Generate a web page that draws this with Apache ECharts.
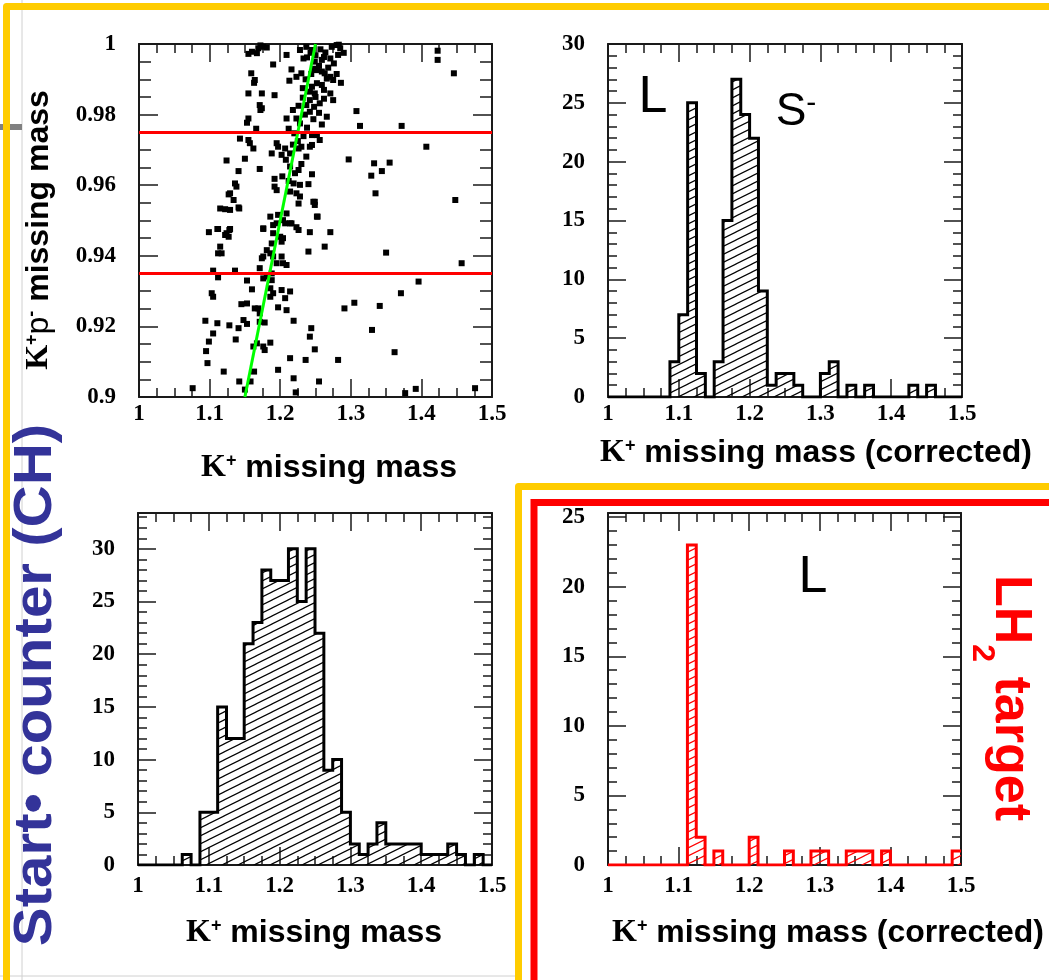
<!DOCTYPE html>
<html><head><meta charset="utf-8">
<script src="https://cdn.jsdelivr.net/npm/echarts@6/dist/echarts.min.js"></script>
<style>html,body{margin:0;padding:0;background:#fff}#c{width:1049px;height:980px}</style>
</head><body><div id="c"></div>
<script>
// ---------------- DATA ----------------
const binStart = 1.0, binWidth = 0.0125;
const xTicks = [1, 1.1, 1.2, 1.3, 1.4, 1.5];
// top-right: K+ missing mass (corrected), start counter
const countsTR = [0,0,0,0,0,0,0, 3,7,25,2,0, 3,15,27,24,22, 9,1,2,2,1, 0,0,2,3,0, 1,0,1,0,0, 0,0,1,0,1, 0,0,0];
// bottom-left: K+ missing mass, start counter
const countsBL = [0,0,0,0,0, 1,0,5,5,15, 12,12,21,23,28, 27,27,30,25,30, 22,9,10,5,2, 1,2,4,2,2, 2,2,1,1,1, 2,1,0,1,0];
// bottom-right: K+ missing mass (corrected), LH2 target
const countsBR = [0,0,0,0,0, 0,0,0,0,23, 2,0,1,0,0, 0,2,0,0,0, 1,0,0,1,1, 0,0,1,1,1, 0,1,0,0,0, 0,0,0,0,1];
// top-left scatter: [K+ missing mass, K+p- missing mass]
const cutLines = [0.935, 0.975];
const greenLine = [[1.15, 0.90], [1.25, 1.00]];
const scatterPoints = [
[1.160,0.9978],[1.169,0.9988],[1.176,0.9992],[1.167,0.9974],[1.155,0.9972],[1.190,0.9942],[1.209,0.9969],[1.228,0.9983],
[1.233,0.9959],[1.237,0.9992],[1.245,0.9983],[1.249,0.9950],[1.259,0.9955],[1.273,0.9992],[1.280,0.9997],[1.285,0.9988],
[1.282,0.9969],[1.271,0.9959],[1.276,0.9945],[1.423,0.9981],[1.423,0.9955],[1.446,0.9917],[1.216,0.9928],[1.213,0.9896],
[1.223,0.9907],[1.230,0.9917],[1.252,0.9926],[1.259,0.9922],[1.263,0.9917],[1.271,0.9907],[1.275,0.9898],[1.286,0.9890],
[1.252,0.9889],[1.245,0.9879],[1.259,0.9884],[1.159,0.9917],[1.164,0.9898],[1.163,0.9890],[1.155,0.9860],[1.174,0.9860],
[1.192,0.9855],[1.242,0.9865],[1.249,0.9860],[1.271,0.9860],[1.275,0.9841],[1.242,0.9841],[1.256,0.9832],[1.237,0.9827],
[1.171,0.9827],[1.174,0.9818],[1.172,0.9813],[1.308,0.9810],[1.218,0.9813],[1.242,0.9808],[1.223,0.9789],[1.209,0.9789],
[1.247,0.9787],[1.259,0.9772],[1.266,0.9794],[1.155,0.9789],[1.153,0.9777],[1.166,0.9760],[1.313,0.9768],[1.372,0.9768],
[1.220,0.9747],[1.233,0.9739],[1.245,0.9742],[1.252,0.9742],[1.256,0.9728],[1.245,0.9714],[1.242,0.9709],[1.143,0.9732],
[1.155,0.9728],[1.157,0.9719],[1.162,0.9704],[1.195,0.9719],[1.197,0.9709],[1.207,0.9704],[1.226,0.9704],[1.230,0.9709],
[1.214,0.9690],[1.202,0.9686],[1.188,0.9690],[1.237,0.9681],[1.407,0.9709],[1.124,0.9670],[1.150,0.9675],[1.297,0.9673],
[1.333,0.9662],[1.355,0.9664],[1.329,0.9627],[1.344,0.9640],[1.171,0.9646],[1.141,0.9640],[1.214,0.9653],[1.221,0.9634],
[1.226,0.9643],[1.245,0.9631],[1.192,0.9618],[1.219,0.9605],[1.228,0.9601],[1.136,0.9605],[1.138,0.9596],[1.129,0.9577],
[1.127,0.9574],[1.192,0.9596],[1.195,0.9586],[1.214,0.9582],[1.223,0.9577],[1.228,0.9568],[1.240,0.9603],[1.335,0.9577],
[1.134,0.9558],[1.115,0.9534],[1.122,0.9532],[1.129,0.9530],[1.142,0.9534],[1.448,0.9558],[1.249,0.9553],[1.249,0.9544],
[1.253,0.9511],[1.197,0.9516],[1.209,0.9520],[1.207,0.9492],[1.214,0.9492],[1.190,0.9487],[1.186,0.9511],[1.112,0.9476],
[1.129,0.9476],[1.176,0.9476],[1.223,0.9481],[1.141,0.9537],[1.226,0.9548],[1.247,0.9553],[1.204,0.9501],[1.216,0.9492],
[1.195,0.9492],[1.176,0.9478],[1.252,0.9511],[1.099,0.9467],[1.111,0.9476],[1.124,0.9464],[1.128,0.9473],[1.127,0.9454],
[1.122,0.9459],[1.190,0.9464],[1.200,0.9454],[1.204,0.9450],[1.202,0.9440],[1.188,0.9435],[1.226,0.9473],[1.242,0.9467],
[1.271,0.9467],[1.115,0.9426],[1.112,0.9407],[1.117,0.9407],[1.176,0.9398],[1.181,0.9416],[1.186,0.9407],[1.174,0.9393],
[1.190,0.9398],[1.202,0.9398],[1.204,0.9379],[1.209,0.9374],[1.195,0.9379],[1.240,0.9412],[1.263,0.9426],[1.350,0.9409],
[1.457,0.9379],[1.105,0.9358],[1.112,0.9339],[1.136,0.9358],[1.171,0.9365],[1.176,0.9336],[1.181,0.9341],[1.188,0.9350],
[1.188,0.9331],[1.153,0.9330],[1.160,0.9305],[1.186,0.9308],[1.190,0.9294],[1.186,0.9284],[1.202,0.9303],[1.214,0.9299],
[1.207,0.9280],[1.103,0.9294],[1.105,0.9284],[1.396,0.9327],[1.371,0.9294],[1.145,0.9263],[1.153,0.9265],[1.164,0.9251],
[1.169,0.9251],[1.171,0.9237],[1.197,0.9254],[1.209,0.9246],[1.291,0.9251],[1.305,0.9267],[1.341,0.9258],[1.094,0.9216],
[1.111,0.9209],[1.128,0.9203],[1.141,0.9195],[1.153,0.9207],[1.148,0.9218],[1.171,0.9213],[1.178,0.9211],[1.219,0.9216],
[1.105,0.9180],[1.099,0.9157],[1.095,0.9130],[1.097,0.9096],[1.137,0.9163],[1.162,0.9143],[1.167,0.9152],[1.176,0.9143],
[1.178,0.9133],[1.186,0.9154],[1.244,0.9195],[1.242,0.9171],[1.249,0.9135],[1.330,0.9190],[1.214,0.9110],[1.236,0.9105],
[1.282,0.9105],[1.362,0.9127],[1.120,0.9072],[1.142,0.9044],[1.158,0.9044],[1.163,0.9072],[1.197,0.9077],[1.219,0.9053],
[1.255,0.9044],[1.076,0.9025],[1.150,0.9021],[1.222,0.9013],[1.377,0.9011],[1.392,0.9023],[1.476,0.9025],
[1.243,0.9975],[1.250,0.9968],[1.257,0.9985],[1.264,0.9976],[1.238,0.9962],[1.262,0.9963],[1.255,0.9938],[1.248,0.9930],
[1.268,0.9933],[1.244,0.9915],[1.236,0.9900],[1.266,0.9902],[1.280,0.9915],[1.232,0.9875],[1.262,0.9870],[1.250,0.9850],
[1.232,0.9848],[1.262,0.9845],[1.226,0.9825],[1.248,0.9822],[1.235,0.9800],[1.255,0.9805],[1.228,0.9775],[1.238,0.9763],
[1.212,0.9760],[1.225,0.9725],[1.218,0.9715],[1.208,0.9672],[1.230,0.9660],[1.203,0.9625],[1.212,0.9612],[1.181,0.9990],
[1.172,0.9996],[1.283,0.9998],[1.290,0.9975]
];

// ---------------- HELPERS ----------------
function hatch(color){
  const c = document.createElement('canvas'); c.width = 16; c.height = 8;
  const g = c.getContext('2d'); g.strokeStyle = color; g.lineWidth = 1.2;
  for (let n = -1; n <= 1; n++) { g.beginPath(); g.moveTo(-2, 9 + 8*n); g.lineTo(18, -1 + 8*n); g.stroke(); }
  return {image: c, repeat: 'repeat'};
}
function stepData(counts){
  const d = counts.map((v,i) => [+(binStart + i*binWidth).toFixed(4), v]);
  d.push([+(binStart + counts.length*binWidth).toFixed(4), counts[counts.length-1]]);
  return d;
}
const numFont = {fontFamily: 'Liberation Serif', fontWeight: 'bold', fontSize: 23, color: '#000'};
const frameLine = () => ({show: true, onZero: false, lineStyle: {color: '#1a1a1a', width: 2}});
function xAx(gi, pos, labels, margin){
  return {type: 'value', gridIndex: gi, position: pos, min: xTicks[0], max: xTicks[xTicks.length-1], interval: 0.1,
    axisLine: frameLine(),
    axisTick: {show: true, inside: true, length: 18, lineStyle: {color: '#1a1a1a', width: 1.5}},
    minorTick: {show: true, splitNumber: 4, length: 9, lineStyle: {color: '#1a1a1a', width: 1.5}},
    splitLine: {show: false}, minorSplitLine: {show: false},
    axisLabel: labels ? Object.assign({show: true, margin: margin, formatter: v => String(+(+v).toFixed(2))}, numFont) : {show: false}};
}
function yScatter(gi, pos, labels){
  return {type: 'value', gridIndex: gi, position: pos, min: 0.9, max: 1.0, interval: 0.02,
    axisLine: frameLine(),
    axisTick: {show: true, inside: true, length: 19, lineStyle: {color: '#1a1a1a', width: 1.5}},
    minorTick: {show: true, splitNumber: 4, length: 12, lineStyle: {color: '#1a1a1a', width: 1.5}},
    splitLine: {show: false}, minorSplitLine: {show: false},
    axisLabel: labels ? Object.assign({show: true, margin: 23, formatter: v => String(+(+v).toFixed(2))}, numFont) : {show: false}};
}
function yHist(gi, pos, max, major, labels){
  return {type: 'value', gridIndex: gi, position: pos, min: 0, max: max, interval: major ? 5 : 1,
    axisLine: major ? frameLine() : {show: false, onZero: false},
    axisTick: {show: true, inside: true, length: major ? 18 : 9, lineStyle: {color: '#1a1a1a', width: 1.5}},
    splitLine: {show: false},
    axisLabel: labels ? Object.assign({show: true, margin: 23, showMaxLabel: max % 5 === 0}, numFont) : {show: false}};
}

// ---------------- LAYOUT ----------------
const grids = [
  {left: 139, top: 44, width: 353, height: 353},
  {left: 608, top: 44, width: 354, height: 353},
  {left: 138, top: 513, width: 354, height: 352},
  {left: 608, top: 513, width: 353, height: 352}
];
const maxTR = 30, maxBL = 33.4, maxBR = 25.3;
const xAxis = [
  xAx(0,'bottom',true,6), xAx(0,'top',false),
  xAx(1,'bottom',true,6), xAx(1,'top',false),
  xAx(2,'bottom',true,10), xAx(2,'top',false),
  xAx(3,'bottom',true,10), xAx(3,'top',false)
];
const yAxis = [
  yScatter(0,'left',true), yScatter(0,'right',false),
  yHist(1,'left',maxTR,true,true), yHist(1,'left',maxTR,false,false), yHist(1,'right',maxTR,true,false), yHist(1,'right',maxTR,false,false),
  yHist(2,'left',maxBL,true,true), yHist(2,'left',maxBL,false,false), yHist(2,'right',maxBL,true,false), yHist(2,'right',maxBL,false,false),
  yHist(3,'left',maxBR,true,true), yHist(3,'left',maxBR,false,false), yHist(3,'right',maxBR,true,false), yHist(3,'right',maxBR,false,false)
];
function histSeries(counts, xi, yi, color){
  return {type: 'line', xAxisIndex: xi, yAxisIndex: yi, step: 'end', symbol: 'none', silent: true,
    data: stepData(counts), lineStyle: {color: color, width: 3, join: 'miter'},
    areaStyle: {color: hatch(color), opacity: 1}, z: 3};
}
const series = [
  {type: 'scatter', xAxisIndex: 0, yAxisIndex: 0, symbol: 'rect', symbolSize: 6, silent: true,
   itemStyle: {color: '#000', opacity: 1}, data: scatterPoints,
   markLine: {silent: true, symbol: 'none', precision: 4, label: {show: false},
     lineStyle: {color: '#ff0000', width: 3, type: 'solid', opacity: 1},
     data: cutLines.map(v => ({yAxis: v}))}},
  {type: 'line', xAxisIndex: 0, yAxisIndex: 0, symbol: 'none', silent: true, data: greenLine,
   lineStyle: {color: '#00ff00', width: 3}, z: 4},
  histSeries(countsTR, 2, 2, '#000'),
  histSeries(countsBL, 4, 6, '#000'),
  histSeries(countsBR, 6, 10, '#ff0000')
];

// ---------------- TEXT ----------------
const rich = {
  k: {fontFamily: 'Liberation Serif', fontWeight: 'bold', fontSize: 32, fill: '#000', verticalAlign: 'bottom'},
  s: {fontFamily: 'Liberation Sans', fontWeight: 'bold', fontSize: 18, fill: '#000', verticalAlign: 'top'},
  p: {fontFamily: 'Liberation Sans', fontWeight: 'normal', fontSize: 32, fill: '#000', verticalAlign: 'bottom'},
  t: {fontFamily: 'Liberation Sans', fontWeight: 'bold', fontSize: 32, fill: '#000', verticalAlign: 'bottom'}
};
function title(x, y, text, rot){
  return {type: 'text', x: x, y: y, rotation: rot || 0, silent: true,
    style: {text: text, rich: rich, align: 'center', verticalAlign: 'middle'}};
}
const graphic = [
  // decorative slide frames
  {type: 'line', silent: true, shape: {x1: 22, y1: 0, x2: 22, y2: 980}, style: {stroke: '#d0d0d0', lineWidth: 1}},
  {type: 'line', silent: true, shape: {x1: 0, y1: 976, x2: 520, y2: 976}, style: {stroke: '#d0d0d0', lineWidth: 1}},
  {type: 'rect', silent: true, shape: {x: 0, y: 124, width: 22, height: 6}, style: {fill: '#808080'}},
  {type: 'polyline', silent: true, shape: {points: [[6.5, 980], [6.5, 6.5], [1049, 6.5]]},
    style: {stroke: '#ffcc00', lineWidth: 7, lineJoin: 'round', fill: null}},
  {type: 'polyline', silent: true, shape: {points: [[518.5, 980], [518.5, 486.5], [1049, 486.5]]},
    style: {stroke: '#ffcc00', lineWidth: 7, lineJoin: 'round', fill: null}},
  {type: 'polyline', silent: true, shape: {points: [[534, 980], [534, 502.5], [1049, 502.5]]},
    style: {stroke: '#ff0000', lineWidth: 7, lineJoin: 'miter', fill: null}},
  // axis titles
  title(329, 468, '{k|K}{s|+}{t| missing mass}'),
  title(816, 453, '{k|K}{s|+}{t| missing mass (corrected)}'),
  title(314, 933, '{k|K}{s|+}{t| missing mass}'),
  title(828, 933, '{k|K}{s|+}{t| missing mass (corrected)}'),
  title(39, 230, '{k|K}{s|+}{p|p}{s|-}{t| missing mass}', Math.PI/2),
  // side labels
  {type: 'text', x: 36, y: 685, rotation: Math.PI/2, scaleX: 1.1, silent: true,
    style: {text: 'Start\u2022 counter (CH)', fontFamily: 'Liberation Sans', fontWeight: 'bold', fontSize: 53,
      fill: '#333399', align: 'center', verticalAlign: 'middle'}},
  {type: 'text', x: 1001, y: 698, rotation: -Math.PI/2, silent: true,
    style: {text: '{a|LH}{b|2}{a| target}', align: 'center', verticalAlign: 'middle',
      rich: {a: {fontFamily: 'Liberation Sans', fontWeight: 'bold', fontSize: 52, fill: '#ff0000', verticalAlign: 'top'},
             b: {fontFamily: 'Liberation Sans', fontWeight: 'bold', fontSize: 32, fill: '#ff0000', verticalAlign: 'bottom', lineHeight: 70}}}},
  // particle labels
  {type: 'text', x: 653, y: 98, silent: true,
    style: {text: 'L', fontFamily: 'Liberation Sans', fontSize: 52, fill: '#000', align: 'center', verticalAlign: 'middle'}},
  {type: 'text', x: 796, y: 112, silent: true,
    style: {text: '{a|S}{b|-}', align: 'center', verticalAlign: 'middle',
      rich: {a: {fontFamily: 'Liberation Sans', fontSize: 46, fill: '#000', verticalAlign: 'bottom'},
             b: {fontFamily: 'Liberation Sans', fontSize: 30, fill: '#000', verticalAlign: 'top'}}}},
  {type: 'text', x: 813, y: 578, silent: true,
    style: {text: 'L', fontFamily: 'Liberation Sans', fontSize: 52, fill: '#000', align: 'center', verticalAlign: 'middle'}}
];

const chart = echarts.init(document.getElementById('c'), null, {renderer: 'canvas'});
chart.setOption({animation: false, backgroundColor: '#fff', grid: grids, xAxis: xAxis, yAxis: yAxis, series: series, graphic: graphic});
</script></body></html>
